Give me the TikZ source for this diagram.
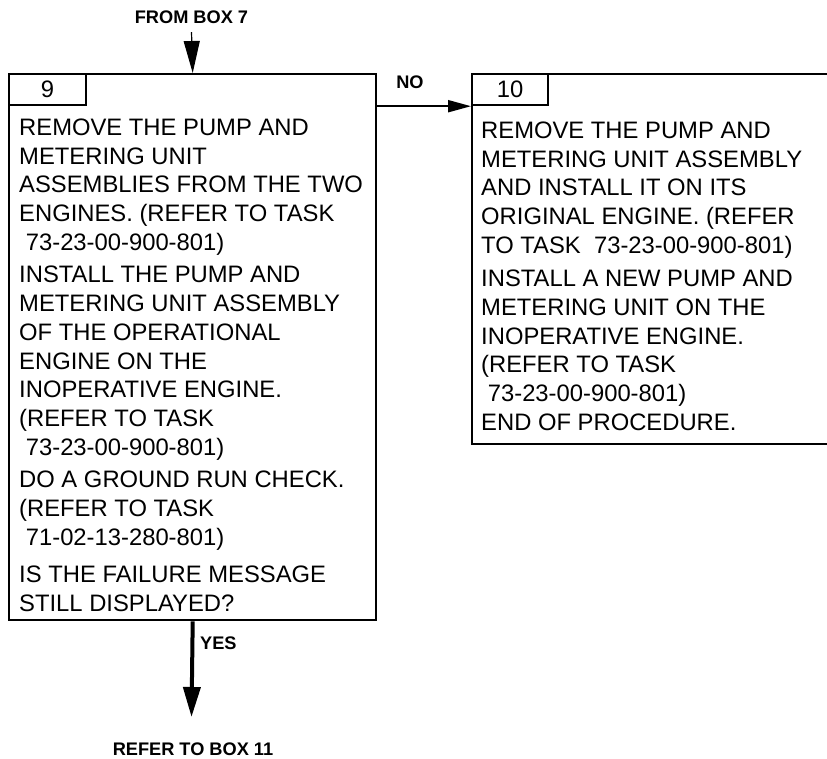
\documentclass[tikz,border=0pt]{standalone}
\usepackage{fontspec}
\setmainfont{Liberation Sans}
\usetikzlibrary{arrows.meta, positioning, calc}

\begin{document}
\begin{tikzpicture}[
    x=1pt, y=-1pt,
    box/.style={draw, line width=2.4pt, anchor=north west, inner sep=0pt},
    numbox/.style={draw, line width=2.2pt, anchor=north west, minimum width=77pt, minimum height=31pt, inner sep=0pt, font=\fontsize{23.8}{28.8}\selectfont},
    txt/.style={anchor=base west, align=left, inner sep=0pt, font=\fontsize{23.8}{28.8}\selectfont},
    lbl/.style={font=\fontsize{18.2}{20}\selectfont\bfseries, inner sep=0pt}
]
    \useasboundingbox (0,0) rectangle (827,758);
    \clip (0,0) rectangle (827,758);
    % boxes
    \node[box, minimum width=367pt, minimum height=546pt] (box9) at (8,73) {};
    \node[numbox] (lbl9) at (box9.north west) {9};
    \node[box, minimum width=370pt, minimum height=370pt] (box10) at (471,73) {};
    \node[numbox, minimum width=76pt] (lbl10) at (box10.north west) {10};
    % texts of box 9 (placed by the baseline of their last line)
    \node[txt] (t9a) at (19,250.5) {REMOVE THE PUMP AND\\METERING UNIT\\ASSEMBLIES FROM THE TWO\\ENGINES. (REFER TO TASK\\\hspace*{0.28em}73-23-00-900-801)};
    \node[txt] (t9b) at (19,455.5) {INSTALL THE PUMP AND\\METERING UNIT ASSEMBLY\\OF THE OPERATIONAL\\ENGINE ON THE\\INOPERATIVE ENGINE.\\(REFER TO TASK\\\hspace*{0.28em}73-23-00-900-801)};
    \node[txt] (t9c) at (19,545.5) {DO A GROUND RUN CHECK.\\(REFER TO TASK\\\hspace*{0.28em}71-02-13-280-801)};
    \node[txt] (t9d) at (19,611.5) {IS THE FAILURE MESSAGE\\STILL DISPLAYED?};
    % texts of box 10
    \node[txt] (t10a) at (481,253.5) {REMOVE THE PUMP AND\\METERING UNIT ASSEMBLY\\AND INSTALL IT ON ITS\\ORIGINAL ENGINE. (REFER\\TO TASK\ \ 73-23-00-900-801)};
    \node[txt] (t10b) at (481,430.5) {INSTALL A NEW PUMP AND\\METERING UNIT ON THE\\INOPERATIVE ENGINE.\\(REFER TO TASK\\\hspace*{0.28em}73-23-00-900-801)\\END OF PROCEDURE.};
    % flow labels
    \node[lbl] (from7) at (191.5,17) {FROM BOX 7};
    \node[lbl] (no) at (410,82) {NO};
    \node[lbl, anchor=west] (yes) at (200,643) {YES};
    \node[lbl] (refer11) at (193,749.5) {REFER TO BOX 11};
    \coordinate (yestip) at (191.5,717);
    % connectors
    \draw[line width=1.2pt, -{Triangle[length=32pt, width=16pt]}] ([yshift=-8.5pt]from7.south) -- (box9.north);
    \draw[line width=2pt, -{Triangle[length=23pt, width=12pt]}] (box9.east |- lbl9.south) -- (lbl10.south west);
    \draw[line width=4pt, -{Triangle[length=30pt, width=17pt]}] (box9.south) -- (yestip);
\end{tikzpicture}
\end{document}
